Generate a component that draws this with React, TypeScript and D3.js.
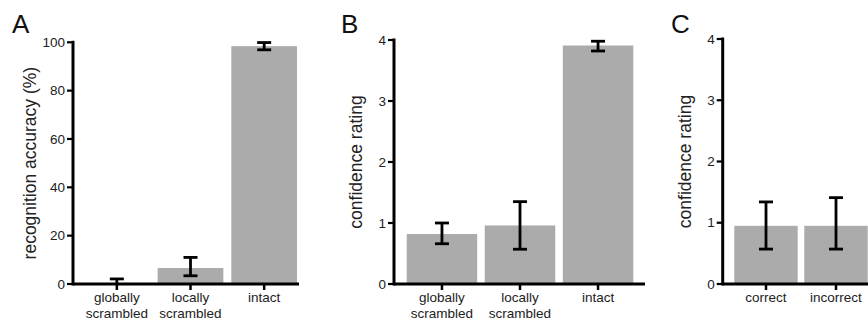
import * as d3 from "d3";

// panel A: recognition accuracy (%)
const catsA = ["globally scrambled", "locally scrambled", "intact"];
const meanA = [0.3, 6.6, 98.4];
const lowA = [0, 3.4, 96.9];
const highA = [2.1, 11.0, 99.9];
const ticksA = [0, 20, 40, 60, 80, 100];

// panel B: confidence rating by scramble condition
const catsB = ["globally scrambled", "locally scrambled", "intact"];
const meanB = [0.82, 0.96, 3.91];
const lowB = [0.66, 0.57, 3.82];
const highB = [1.0, 1.35, 3.98];
const ticksB = [0, 1, 2, 3, 4];

// panel C: confidence rating by answer
const catsC = ["correct", "incorrect"];
const meanC = [0.95, 0.95];
const lowC = [0.57, 0.57];
const highC = [1.34, 1.41];
const ticksC = [0, 1, 2, 3, 4];

const W = 868;
const H = 321;
const FONT = "Liberation Sans, Arial, Helvetica, sans-serif";
const BAR = "#ababab";
const TXT = "#222";

type PanelProps = {
  letter: string;
  yLabel: string;
  cats: string[];
  mean: number[];
  low: number[];
  high: number[];
  ticks: number[];
  yMax: number;
  axisX: number;
  axisEnd: number;
  bandRange: [number, number];
  inner: number;
  outer: number;
  yTop: number;
  labelX: number;
  letterX: number;
};

function Panel(p: PanelProps) {
  const y0 = 284;
  const y = d3.scaleLinear().domain([0, p.yMax]).range([y0, p.yTop]);
  const x = d3
    .scaleBand<string>()
    .domain(p.cats)
    .range(p.bandRange)
    .paddingInner(p.inner)
    .paddingOuter(p.outer);
  const bw = x.bandwidth();
  const cap = 7;

  return (
    <g fontFamily={FONT}>
      <text x={p.letterX} y={33} fontSize={26} fill="#111">
        {p.letter}
      </text>
      <text
        transform={`translate(${p.labelX},${(y0 + p.yTop) / 2}) rotate(-90)`}
        textAnchor="middle"
        fontSize={17.5}
        fill={TXT}
      >
        {p.yLabel}
      </text>

      {p.cats.map((c, i) => (
        <rect key={c} x={x(c)} y={y(p.mean[i])} width={bw} height={y0 - y(p.mean[i])} fill={BAR} />
      ))}

      {p.cats.map((c, i) => {
        const cx = (x(c) as number) + bw / 2;
        return (
          <g key={c} stroke="#000" strokeWidth={2.8}>
            <line x1={cx} x2={cx} y1={y(p.low[i])} y2={y(p.high[i])} />
            <line x1={cx - cap} x2={cx + cap} y1={y(p.high[i])} y2={y(p.high[i])} />
            {p.low[i] > 0 && (
              <line x1={cx - cap} x2={cx + cap} y1={y(p.low[i])} y2={y(p.low[i])} />
            )}
          </g>
        );
      })}

      {/* axes */}
      <g stroke="#000" strokeWidth={3}>
        <line x1={p.axisX} x2={p.axisX} y1={y(p.yMax) - 1.5} y2={y0 + 1.5} />
        <line x1={p.axisX} x2={p.axisEnd} y1={y0} y2={y0} />
      </g>
      {p.ticks.map((t) => (
        <g key={t}>
          <line x1={p.axisX - 6} x2={p.axisX} y1={y(t)} y2={y(t)} stroke="#000" strokeWidth={2.2} />
          <text
            x={p.axisX - 8}
            y={y(t)}
            dy="0.35em"
            textAnchor="end"
            fontSize={13.5}
            fill={TXT}
          >
            {t}
          </text>
        </g>
      ))}
      {p.cats.map((c) => {
        const cx = (x(c) as number) + bw / 2;
        const lines = c.split(" ");
        return (
          <g key={c}>
            <line x1={cx} x2={cx} y1={y0} y2={y0 + 6} stroke="#000" strokeWidth={2.5} />
            <text textAnchor="middle" fontSize={13.5} fill={TXT}>
              {lines.map((l, k) => (
                <tspan key={k} x={cx} y={302 + k * 15.5}>
                  {l}
                </tspan>
              ))}
            </text>
          </g>
        );
      })}
    </g>
  );
}

export default function App() {
  return (
    <svg
      width={W}
      height={H}
      style={{ position: "absolute", left: 0, top: 0, background: "#fff" }}
    >
      <Panel
        letter="A"
        yLabel="recognition accuracy (%)"
        cats={catsA}
        mean={meanA}
        low={lowA}
        high={highA}
        ticks={ticksA}
        yMax={100}
        axisX={73}
        axisEnd={299}
        bandRange={[80, 301]}
        inner={0.108}
        outer={0.054}
        yTop={42.3}
        labelX={36}
        letterX={12}
      />
      <Panel
        letter="B"
        yLabel="confidence rating"
        cats={catsB}
        mean={meanB}
        low={lowB}
        high={highB}
        ticks={ticksB}
        yMax={4}
        axisX={394}
        axisEnd={645}
        bandRange={[402.9, 637.1]}
        inner={0.097}
        outer={0.049}
        yTop={40}
        labelX={362}
        letterX={341}
      />
      <Panel
        letter="C"
        yLabel="confidence rating"
        cats={catsC}
        mean={meanC}
        low={lowC}
        high={highC}
        ticks={ticksC}
        yMax={4}
        axisX={722.7}
        axisEnd={880}
        bandRange={[730.8, 871.2]}
        inner={0.094}
        outer={0.05}
        yTop={39}
        labelX={691}
        letterX={671}
      />
    </svg>
  );
}
